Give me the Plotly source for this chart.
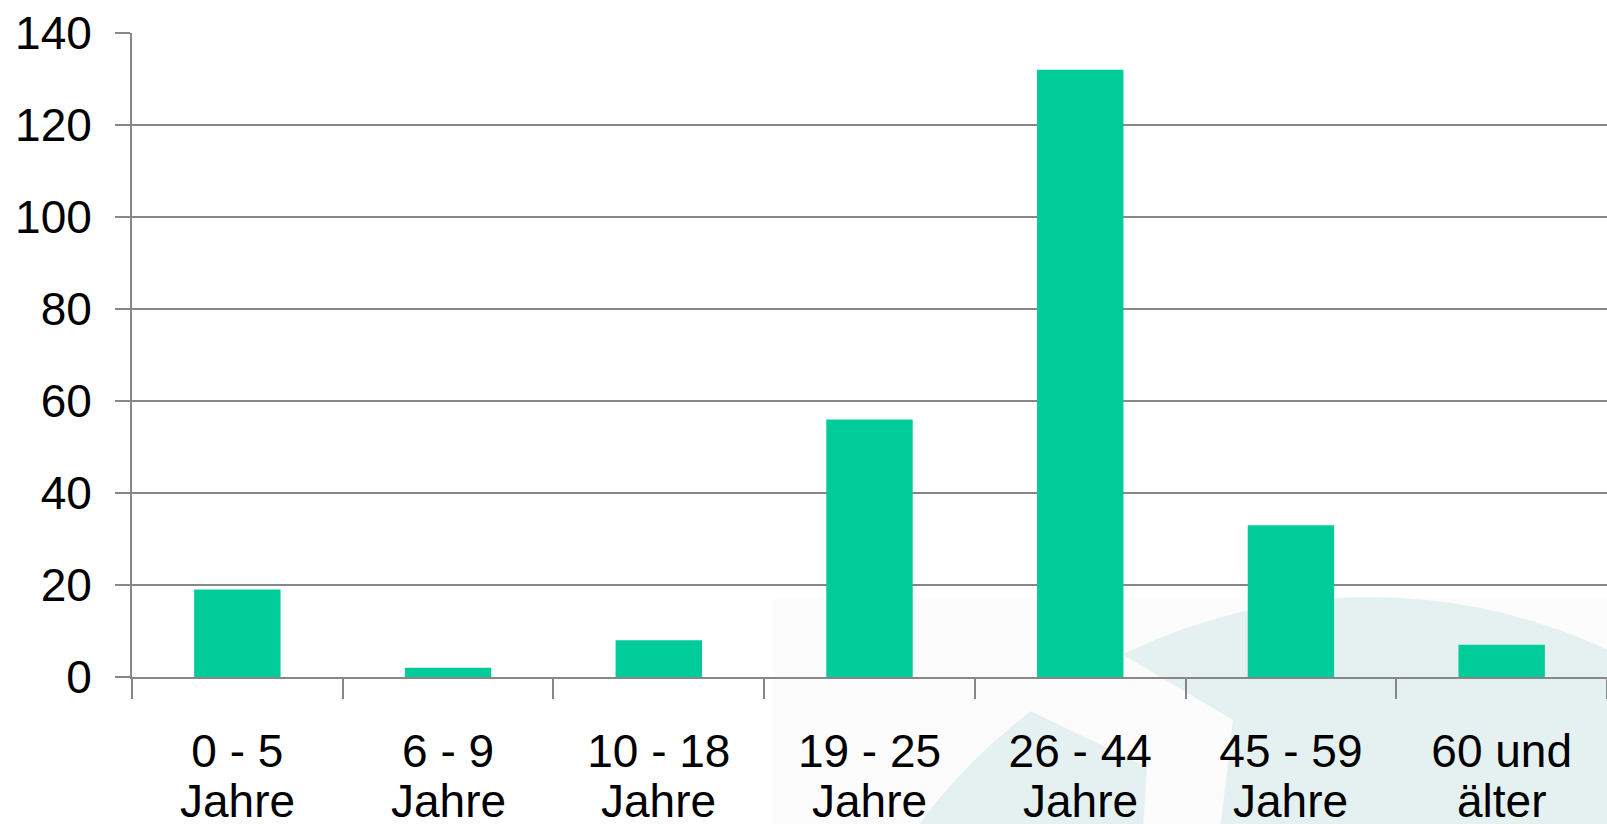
import plotly.graph_objects as go

# Age groups (two-line labels) and counts
age_ranges = ["0 - 5", "6 - 9", "10 - 18", "19 - 25", "26 - 44", "45 - 59", "60 und"]
age_units = ["Jahre", "Jahre", "Jahre", "Jahre", "Jahre", "Jahre", "älter"]
counts = [19, 2, 8, 56, 132, 33, 7]
y_ticks = [0, 20, 40, 60, 80, 100, 120, 140]

W, H = 1607, 824
ML, MR, MT, MB = 132, 0, 33, 147
PW, PH = W - ML - MR, H - MT - MB

BAR = "#00CC99"
GRID = "#878787"
TEAL = "rgb(229,241,241)"
OFFWHITE = "rgb(252,252,252)"
FONT = "Liberation Sans, Arial, sans-serif"


def px(x):
    return (x - ML) / PW


def py(y):
    return (H - MB - y) / PH


def path(points):
    return "M " + " L ".join(f"{px(x)},{py(y)}" for x, y in points) + " Z"


fig = go.Figure(
    go.Bar(x=age_ranges, y=counts, marker=dict(color=BAR, line=dict(width=0)))
)

# faint logo watermark behind the plot
shapes = [
    dict(type="rect", xref="paper", yref="paper", layer="below",
         x0=px(773), x1=px(W + 5), y0=py(598), y1=py(H + 5),
         fillcolor=OFFWHITE, line=dict(width=0)),
    dict(type="circle", xref="paper", yref="paper", layer="below",
         x0=px(1370 - 561), x1=px(1370 + 561), y0=py(1158 + 561), y1=py(1158 - 561),
         fillcolor=TEAL, line=dict(width=0)),
    dict(type="path", xref="paper", yref="paper", layer="below",
         path=path([(1020, 706), (1115, 650), (1233, 720), (1220, 830),
                    (1143, 830), (1147, 767)]),
         fillcolor=OFFWHITE, line=dict(width=0)),
]

# second line of each category label
annotations = [
    dict(x=rng, y=py(801), xref="x", yref="paper", text=unit, showarrow=False,
         xanchor="center", yanchor="middle",
         font=dict(size=46, color="black", family=FONT))
    for rng, unit in zip(age_ranges, age_units)
]

fig.update_layout(
    width=W, height=H,
    margin=dict(l=ML, r=MR, t=MT, b=MB, pad=0),
    paper_bgcolor="white",
    plot_bgcolor="rgba(0,0,0,0)",
    bargap=0.59,
    showlegend=False,
    font=dict(family=FONT, color="black", size=46),
    shapes=shapes,
    annotations=annotations,
)

fig.update_xaxes(
    type="category",
    showgrid=False,
    showline=True, linecolor=GRID, linewidth=2,
    ticks="outside", tickson="boundaries", ticklen=20, tickwidth=2, tickcolor=GRID,
    tickfont=dict(size=46, color="black", family=FONT),
    ticklabelstandoff=33,
)

fig.update_yaxes(
    range=[0, 140],
    tickvals=y_ticks,
    showgrid=True, gridcolor=GRID, gridwidth=2,
    zeroline=False,
    showline=True, linecolor=GRID, linewidth=2,
    ticks="outside", ticklen=15, tickwidth=2, tickcolor=GRID,
    tickfont=dict(size=46, color="black", family=FONT),
    ticklabelstandoff=14,
)

fig.write_html("out.html")
